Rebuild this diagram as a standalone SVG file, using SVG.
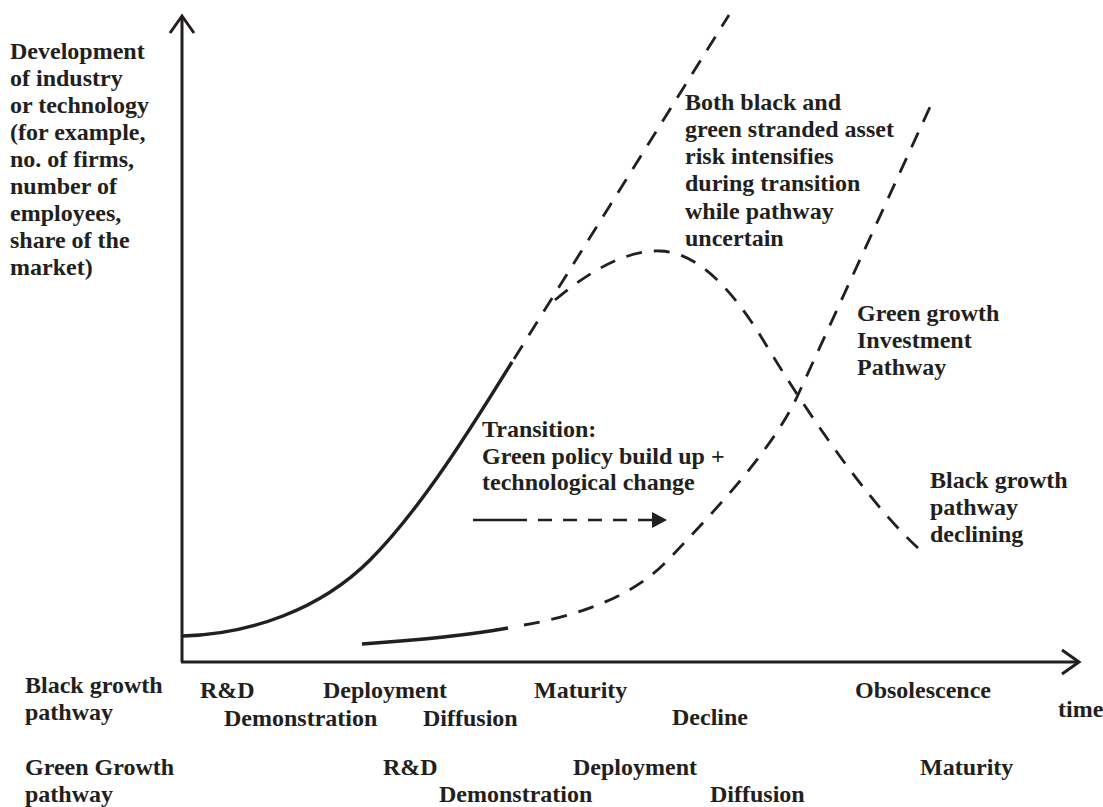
<svg xmlns="http://www.w3.org/2000/svg" width="1103" height="807" viewBox="0 0 1103 807">
<style>
text{font-family:"Liberation Serif","Times New Roman",serif;font-weight:bold;font-size:24px;fill:#231f20}
.ln{fill:none;stroke:#231f20;stroke-linecap:butt}
.ax{stroke-width:3}
.sol{stroke-width:3.4}
.dsh{stroke-width:2.8;stroke-dasharray:16 12}
</style>
<defs>
<marker id="chev" markerUnits="userSpaceOnUse" viewBox="0 0 22 28" refX="19" refY="14" markerWidth="22" markerHeight="28" orient="auto">
<path d="M2,2 L19,14 L2,26" fill="none" stroke="#231f20" stroke-width="3"/>
</marker>
<marker id="tri" markerUnits="userSpaceOnUse" viewBox="0 0 15 16" refX="0" refY="8" markerWidth="15" markerHeight="16" orient="auto">
<path d="M0,0 L15,8 L0,16 z" fill="#231f20"/>
</marker>
</defs>
<rect width="1103" height="807" fill="#ffffff"/>
<g id="connectors">
<path id="y-axis" class="ln ax" d="M182,662 L182,16" marker-end="url(#chev)"/>
<path id="x-axis" class="ln ax" d="M181,662 L1079,662" marker-end="url(#chev)"/>
<path id="black-solid" class="ln sol" d="M183,636 C250,634 320,610 370,560 C420,510 470,430 512,362"/>
<path id="black-up-dashed" class="ln dsh" d="M514,359 L729,15"/>
<path id="black-hump" class="ln dsh" d="M555,300 C600,262 635,250 660,251 C700,252 735,295 760,335 C790,385 860,495 918,548"/>
<path id="green-solid" class="ln sol" d="M362,644 C420,640 470,635 508,628"/>
<path id="green-dashed" class="ln dsh" d="M524,625 C570,617 630,600 668,560 C700,526 770,455 797,397 L930,107"/>
<path id="transition-solid" class="ln" stroke-width="2.6" d="M473,520 L527,520"/>
<path id="transition-dashed" class="ln" stroke-width="2.6" stroke-dasharray="14 11" d="M538,520 L652,520" marker-end="url(#tri)"/>
</g>
<g id="y-label">
<text x="10" y="59">Development</text>
<text x="10" y="86">of industry</text>
<text x="10" y="113">or technology</text>
<text x="10" y="140">(for example,</text>
<text x="10" y="167">no. of firms,</text>
<text x="10" y="194">number of</text>
<text x="10" y="221">employees,</text>
<text x="10" y="248">share of the</text>
<text x="10" y="275">market)</text>
</g>
<g id="risk-label">
<text x="685" y="110">Both black and</text>
<text x="685" y="137">green stranded asset</text>
<text x="685" y="164">risk intensifies</text>
<text x="685" y="191">during transition</text>
<text x="685" y="219">while pathway</text>
<text x="685" y="246">uncertain</text>
</g>
<g id="green-pathway-label">
<text x="857" y="321">Green growth</text>
<text x="857" y="348">Investment</text>
<text x="857" y="375">Pathway</text>
</g>
<g id="black-declining-label">
<text x="930" y="488">Black growth</text>
<text x="930" y="515">pathway</text>
<text x="930" y="542">declining</text>
</g>
<g id="transition-label">
<text x="482" y="437">Transition:</text>
<text x="482" y="464">Green policy build up +</text>
<text x="482" y="490">technological change</text>
</g>
<g id="black-stages">
<text x="25" y="693">Black growth</text>
<text x="25" y="720">pathway</text>
<text x="200" y="698">R&amp;D</text>
<text x="323" y="698">Deployment</text>
<text x="534" y="698">Maturity</text>
<text x="855" y="698">Obsolescence</text>
<text x="224" y="726">Demonstration</text>
<text x="423" y="726">Diffusion</text>
<text x="672" y="725">Decline</text>
</g>
<g id="time-label">
<text x="1058" y="717">time</text>
</g>
<g id="green-stages">
<text x="25" y="775">Green Growth</text>
<text x="25" y="802">pathway</text>
<text x="383" y="775">R&amp;D</text>
<text x="573" y="775">Deployment</text>
<text x="920" y="775">Maturity</text>
<text x="439" y="802">Demonstration</text>
<text x="710" y="802">Diffusion</text>
</g>
</svg>
